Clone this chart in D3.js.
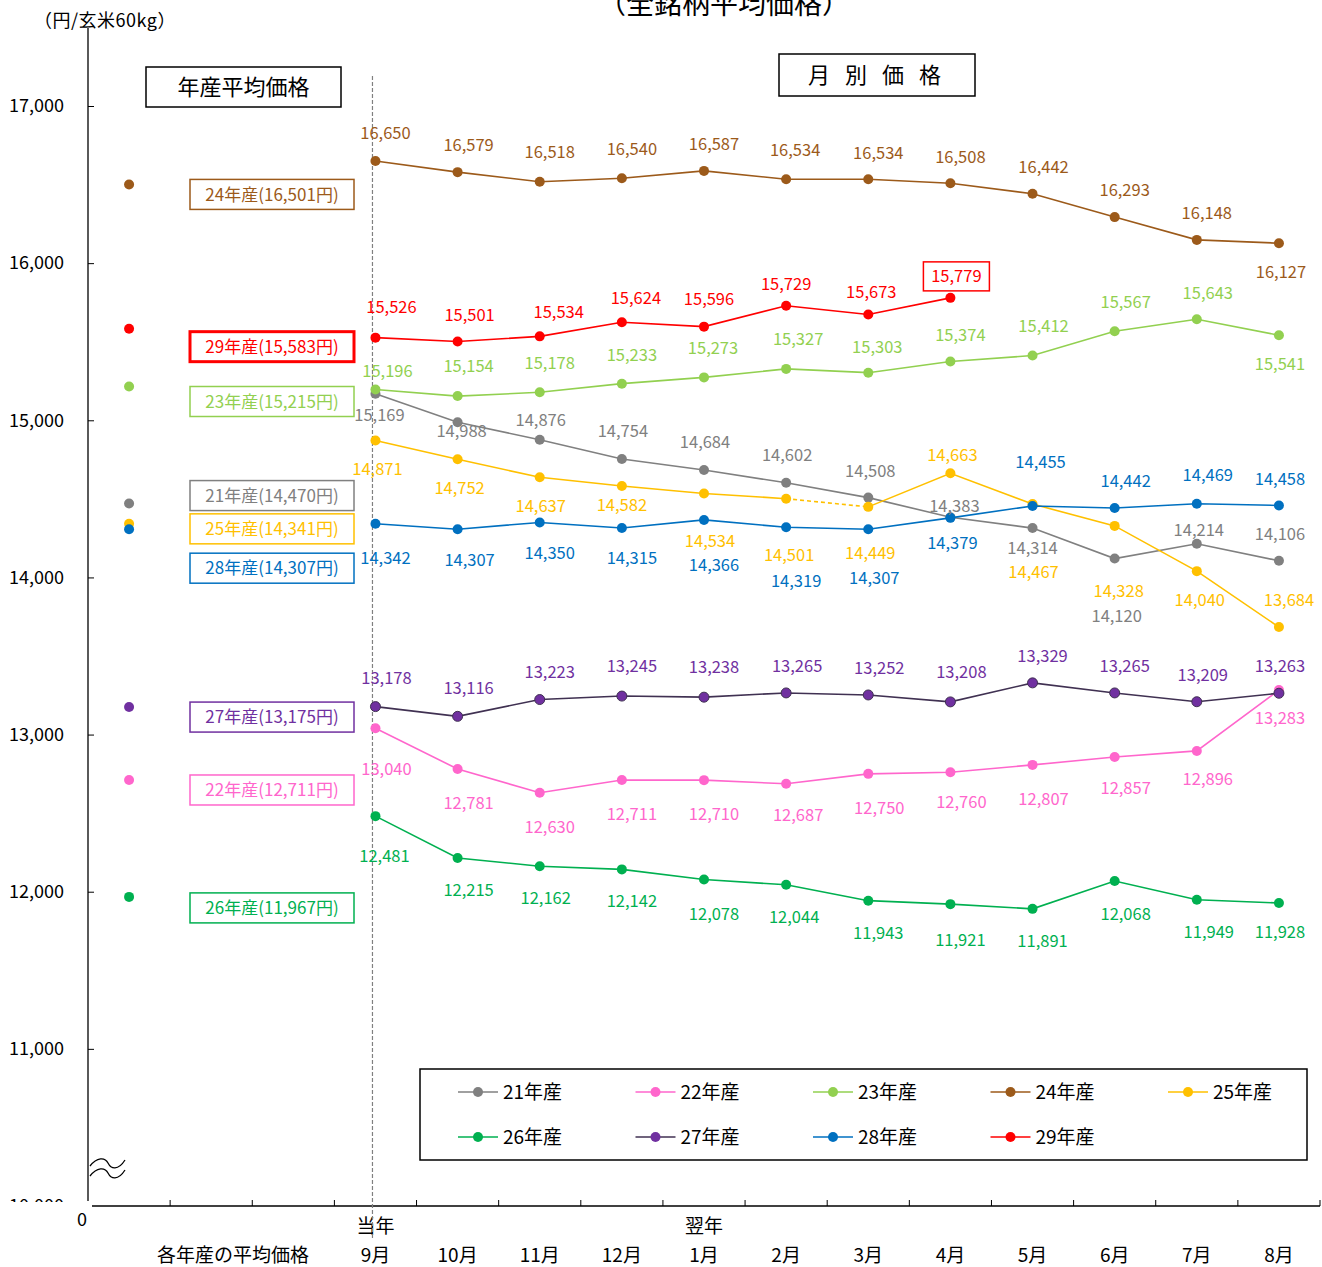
<!DOCTYPE html>
<html>
<head>
<meta charset="utf-8">
<script src="https://cdn.jsdelivr.net/npm/d3@7"></script>
<style>
  body { margin: 0; background: #fff; }
  svg text { font-family: "Noto Sans CJK JP", "Noto Sans", sans-serif; }
</style>
</head>
<body>
<div id="chart"></div>
<script>
// ---- data ----
var months = ["9月", "10月", "11月", "12月", "1月", "2月", "3月", "4月", "5月", "6月", "7月", "8月"];
var yTicks = [11000, 12000, 13000, 14000, 15000, 16000, 17000];
var seriesNames = ["21年産", "22年産", "23年産", "24年産", "25年産", "26年産", "27年産", "28年産", "29年産"];
var annualAvg = [14470, 12711, 15215, 16501, 14341, 11967, 13175, 14307, 15583];

var p21 = [15169, 14988, 14876, 14754, 14684, 14602, 14508, 14383, 14314, 14120, 14214, 14106];
var p22 = [13040, 12781, 12630, 12711, 12710, 12687, 12750, 12760, 12807, 12857, 12896, 13283];
var p23 = [15196, 15154, 15178, 15233, 15273, 15327, 15303, 15374, 15412, 15567, 15643, 15541];
var p24 = [16650, 16579, 16518, 16540, 16587, 16534, 16534, 16508, 16442, 16293, 16148, 16127];
var p25 = [14871, 14752, 14637, 14582, 14534, 14501, 14449, 14663, 14467, 14328, 14040, 13684];
var p26 = [12481, 12215, 12162, 12142, 12078, 12044, 11943, 11921, 11891, 12068, 11949, 11928];
var p27 = [13178, 13116, 13223, 13245, 13238, 13265, 13252, 13208, 13329, 13265, 13209, 13263];
var p28 = [14342, 14307, 14350, 14315, 14366, 14319, 14307, 14379, 14455, 14442, 14469, 14458];
var p29 = [15526, 15501, 15534, 15624, 15596, 15729, 15673, 15779];

// ---- styling / layout (not data) ----
var colors = ["#808080", "#FF66CC", "#92D050", "#9C5A1A", "#FFC000", "#00B050", "#7030A0", "#0070C0", "#FF0000"];
var lineColors = ["#808080", "#FF66CC", "#92D050", "#9C5A1A", "#FFC000", "#00B050", "#403152", "#0070C0", "#FF0000"];

// label offsets [dx, dy] relative to each point
var off21 = [[4,21],[4,9],[1,-20],[1,-28],[1,-28],[1,-28],[2,-27],[4,-11],[0,20],[2,57],[2,-14],[1,-27]];
var off22 = [[11,41],[11,34],[10,34],[10,34],[10,34],[12,31],[11,34],[11,30],[11,34],[11,31],[11,28],[1,28]];
var off23 = [[12,-18],[11,-30],[10,-29],[10,-29],[9,-29],[12,-30],[9,-26],[10,-26],[11,-29],[11,-29],[11,-26],[1,29]];
var off24 = [[10,-28],[11,-27],[10,-30],[10,-29],[10,-27],[9,-29],[10,-26],[10,-26],[11,-27],[10,-27],[10,-27],[2,29]];
var off25 = [[2,29],[2,29],[1,29],[0,19],[6,48],[3,56],[2,46],[2,-18],[1,68],[4,65],[3,29],[10,-27]];
var off26 = [[9,40],[11,32],[6,32],[10,32],[10,35],[8,32],[10,32],[10,36],[10,32],[11,33],[12,32],[1,29]];
var off27 = [[11,-29],[11,-28],[10,-27],[10,-30],[10,-30],[11,-27],[11,-27],[11,-30],[10,-27],[10,-27],[6,-27],[1,-27]];
var off28 = [[10,34],[12,31],[10,31],[10,30],[10,45],[10,54],[6,49],[2,25],[8,-44],[11,-27],[11,-29],[1,-26]];
var off29 = [[16,-31],[12,-26],[19,-24],[14,-24],[5,-28],[0,-22],[3,-22],[6,-22]];
// annual box label vertical offset from dot
var boxDy = [-8, 10, 15, 10, 5, 11, 10, 39, 18];

var prices = [p21, p22, p23, p24, p25, p26, p27, p28, p29];
var offsets = [off21, off22, off23, off24, off25, off26, off27, off28, off29];

var series = seriesNames.map(function(n, i) {
  return { name: n, avg: annualAvg[i], values: prices[i], off: offsets[i],
           color: colors[i], lineColor: lineColors[i], boxDy: boxDy[i] };
});

// ---- chart ----
var W = 1322, H = 1267;
var svg = d3.select("#chart").append("svg").attr("width", W).attr("height", H);

var slots = ["avg", "s1", "s2"].concat(months);
var x = d3.scaleBand().domain(slots).range([88, 1320]).padding(0);
var cx = function(k) { return x(k) + x.bandwidth() / 2; };
var y = d3.scaleLinear().domain([10000, 17000]).range([1206, 106]);
var fmt = d3.format(",");

// title (cut off at the top, as in the original)
svg.append("text").attr("x", 724).attr("y", 14).attr("text-anchor", "middle")
  .attr("font-size", 28).attr("fill", "#000").text("（全銘柄平均価格）");

// unit
svg.append("text").attr("x", 105).attr("y", 27).attr("text-anchor", "middle")
  .attr("font-size", 18).attr("letter-spacing", 0.5).text("（円/玄米60kg）");

// y axis
var yAxis = d3.axisLeft(y).tickValues(yTicks).tickSize(0).tickPadding(24).tickFormat(fmt);
var gy = svg.append("g").attr("transform", "translate(88,0)").call(yAxis);
gy.select(".domain").remove();
gy.selectAll("text").attr("font-size", 18).attr("fill", "#000")
  .attr("font-family", "'Noto Sans CJK JP', sans-serif");
gy.selectAll(".tick").append("line").attr("x1", 0).attr("x2", 6).attr("stroke", "#000");
svg.append("line").attr("x1", 88).attr("x2", 88).attr("y1", 28).attr("y2", 1201)
  .attr("stroke", "#000").attr("stroke-width", 1.3);

// clipped 10,000 label
svg.append("clipPath").attr("id", "clip10k").append("rect")
  .attr("x", 0).attr("y", 1190).attr("width", 80).attr("height", 12);
svg.append("text").attr("x", 64).attr("y", y(10000)).attr("dy", "0.35em")
  .attr("text-anchor", "end").attr("font-size", 18).attr("clip-path", "url(#clip10k)")
  .text(fmt(10000));

// axis break symbol
[1163, 1173].forEach(function(yy) {
  svg.append("path")
    .attr("d", "M90," + (yy + 3) + " C97," + (yy - 6) + " 105," + (yy - 6) + " 108," + yy +
               " S118," + (yy + 8) + " 125," + (yy - 3))
    .attr("fill", "none").attr("stroke", "#000").attr("stroke-width", 1.3);
});

// x axis
svg.append("line").attr("x1", 92).attr("x2", 1320).attr("y1", 1206).attr("y2", 1206)
  .attr("stroke", "#000").attr("stroke-width", 1.3);
var edges = slots.map(function(s) { return x(s); }).slice(1).concat([1320]);
svg.selectAll(".xtick").data(edges).enter().append("line")
  .attr("x1", function(d) { return d; }).attr("x2", function(d) { return d; })
  .attr("y1", 1206).attr("y2", 1200).attr("stroke", "#000");

svg.append("text").attr("x", 82).attr("y", 1226).attr("text-anchor", "middle")
  .attr("font-size", 18).text("0");
svg.selectAll(".mlab").data(months).enter().append("text")
  .attr("x", function(d) { return cx(d); }).attr("y", 1262).attr("text-anchor", "middle")
  .attr("font-size", 19).text(function(d) { return d; });
svg.append("text").attr("x", 233).attr("y", 1262).attr("text-anchor", "middle")
  .attr("font-size", 19).text("各年産の平均価格");
svg.append("text").attr("x", cx("9月")).attr("y", 1233).attr("text-anchor", "middle")
  .attr("font-size", 19).text("当年");
svg.append("text").attr("x", cx("1月")).attr("y", 1233).attr("text-anchor", "middle")
  .attr("font-size", 19).text("翌年");

// dashed divider
svg.append("line").attr("x1", cx("9月") - 3).attr("x2", cx("9月") - 3)
  .attr("y1", 76).attr("y2", 1240)
  .attr("stroke", "#808080").attr("stroke-width", 1.2).attr("stroke-dasharray", "4,2");

// header boxes
function headerBox(x0, y0, w, h, label, ls) {
  svg.append("rect").attr("x", x0).attr("y", y0).attr("width", w).attr("height", h)
    .attr("fill", "#fff").attr("stroke", "#000").attr("stroke-width", 1.5);
  svg.append("text").attr("x", x0 + w / 2).attr("y", y0 + h / 2).attr("dy", "0.36em")
    .attr("text-anchor", "middle").attr("font-size", 22).attr("letter-spacing", ls)
    .text(label);
}
headerBox(146, 67, 195, 40, "年産平均価格", 0);
headerBox(779, 54, 196, 42, "月 別 価 格", 5);

// lines
var line = d3.line().x(function(d, i) { return cx(months[i]); }).y(function(d) { return y(d); });

series.forEach(function(s, si) {
  var g = svg.append("g");
  if (s.name === "25年産") {
    // 2月→3月 segment is dashed
    g.append("path").attr("d", line(s.values.slice(0, 6)))
      .attr("fill", "none").attr("stroke", s.lineColor).attr("stroke-width", 1.6);
    var seg = d3.line().x(function(d, i) { return cx(months[i + 5]); }).y(function(d) { return y(d); });
    g.append("path").attr("d", seg(s.values.slice(5, 7)))
      .attr("fill", "none").attr("stroke", s.lineColor).attr("stroke-width", 1.6)
      .attr("stroke-dasharray", "4,3");
    var rest = d3.line().x(function(d, i) { return cx(months[i + 6]); }).y(function(d) { return y(d); });
    g.append("path").attr("d", rest(s.values.slice(6)))
      .attr("fill", "none").attr("stroke", s.lineColor).attr("stroke-width", 1.6);
  } else {
    g.append("path").attr("d", line(s.values))
      .attr("fill", "none").attr("stroke", s.lineColor).attr("stroke-width", 1.6);
  }
  g.selectAll("circle").data(s.values).enter().append("circle")
    .attr("cx", function(d, i) { return cx(months[i]); })
    .attr("cy", function(d) { return y(d); })
    .attr("r", 5).attr("fill", s.color)
    .attr("stroke", s.name === "27年産" ? "#403152" : "none").attr("stroke-width", 1);

  // annual average dot
  svg.append("circle").attr("cx", cx("avg")).attr("cy", y(s.avg)).attr("r", 5).attr("fill", s.color);
});

// annual labels (boxes)
series.forEach(function(s) {
  var ty = y(s.avg) + s.boxDy;
  var isRed = s.name === "29年産";
  svg.append("rect").attr("x", 190).attr("y", ty - 15).attr("width", 164).attr("height", 30)
    .attr("fill", "#fff").attr("stroke", s.color).attr("stroke-width", isRed ? 3 : 1.5);
  svg.append("text").attr("x", 272).attr("y", ty).attr("dy", "0.36em").attr("text-anchor", "middle")
    .attr("font-size", 17).attr("fill", s.color)
    .text(s.name + "(" + fmt(s.avg) + "円)");
});

// data labels
series.forEach(function(s) {
  s.values.forEach(function(v, i) {
    var px = cx(months[i]) + s.off[i][0];
    var py = y(v) + s.off[i][1];
    if (s.name === "29年産" && i === s.values.length - 1) {
      svg.append("rect").attr("x", px - 33).attr("y", py - 14).attr("width", 66).attr("height", 29)
        .attr("fill", "#fff").attr("stroke", s.color).attr("stroke-width", 1.5);
    }
    svg.append("text").attr("x", px).attr("y", py).attr("dy", "0.36em")
      .attr("text-anchor", "middle").attr("font-size", 16.5).attr("fill", s.color)
      .text(fmt(v));
  });
});

// legend
var lg = svg.append("g");
lg.append("rect").attr("x", 420).attr("y", 1069).attr("width", 887).attr("height", 91)
  .attr("fill", "#fff").attr("stroke", "#000").attr("stroke-width", 1.5);
series.forEach(function(s, i) {
  var col = i % 5, row = Math.floor(i / 5);
  var lx = 458 + col * 177.5, ly = 1092 + row * 45;
  lg.append("line").attr("x1", lx).attr("x2", lx + 40).attr("y1", ly).attr("y2", ly)
    .attr("stroke", s.lineColor).attr("stroke-width", 1.6);
  lg.append("circle").attr("cx", lx + 20).attr("cy", ly).attr("r", 5).attr("fill", s.color);
  lg.append("text").attr("x", lx + 45).attr("y", ly).attr("dy", "0.36em")
    .attr("font-size", 19).text(s.name);
});
</script>
</body>
</html>
